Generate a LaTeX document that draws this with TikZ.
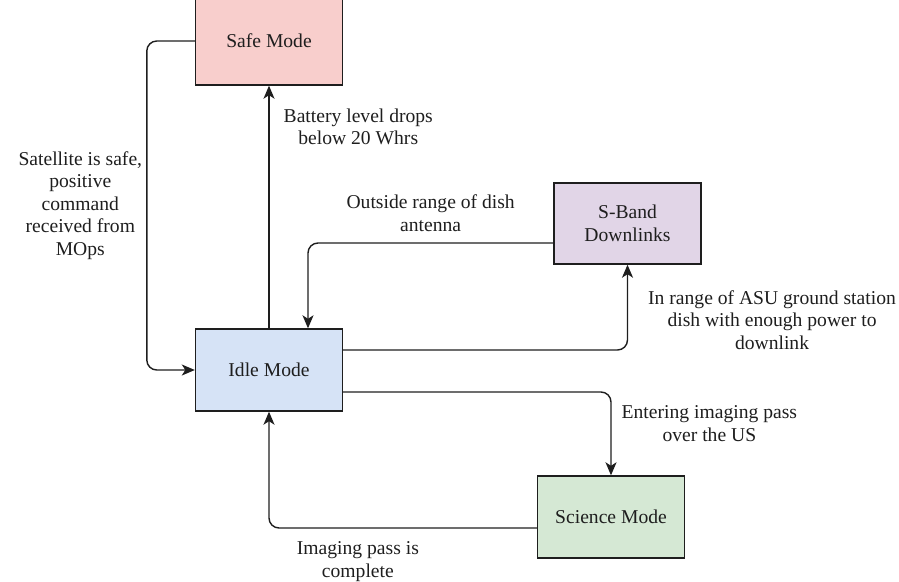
\documentclass[tikz,border=0pt]{standalone}
\usepackage{fontspec}
\setmainfont{Liberation Serif}
\usetikzlibrary{positioning,arrows.meta}

\definecolor{safefill}{HTML}{F8CECC}
\definecolor{idlefill}{HTML}{D6E3F6}
\definecolor{bandfill}{HTML}{E1D5E7}
\definecolor{scifill}{HTML}{D5E8D4}
\definecolor{boxline}{HTML}{1E1E1E}
\definecolor{txt}{HTML}{1E1E1E}

\begin{document}
\begin{tikzpicture}[x=1pt,y=-1pt,node distance=1cm,on grid,
		mode/.style={rectangle, draw=boxline, line width=1.4pt, minimum width=147pt, minimum height=82pt,
			align=center, text=txt, font=\fontsize{19.6}{22.5}\selectfont},
		lbl/.style={align=center, text=txt, inner sep=2pt, font=\fontsize{19.6}{22.5}\selectfont},
		link/.style={draw=boxline, line width=1.4pt, rounded corners=10pt,
			-{Stealth[length=13pt,width=11pt,inset=3.5pt]}}
	]
	
	\clip (0,0) rectangle (899,581);
	
	\node[mode, fill=idlefill] (idle) at (269,370) {Idle Mode};
	\node[mode, fill=safefill, minimum height=88pt] (safe) [above=329pt of idle] {Safe Mode};
	\node[mode, fill=bandfill, minimum height=81pt] (sband) [above right=146.5pt and 358.5pt of idle] {S-Band\\Downlinks};
	\node[mode, fill=scifill] (science) [below right=147pt and 342pt of idle] {Science Mode};
	
	\draw[link] (safe.west) -- ++(-48,0) |- (idle.west)
		node[lbl, anchor=east, pos=0.25, xshift=-2pt] (safecmd) {Satellite is safe,\\positive\\command\\received from\\MOps};
	\draw[link] (idle) -- (safe)
		node[lbl, anchor=west, pos=0.83, xshift=12pt] (lowbat) {Battery level drops\\below 20 Whrs};
	
	\draw[link] ([yshift=-19.5pt]sband.west) -| ([xshift=39pt]idle.north)
		node[lbl, anchor=south, pos=0.25, yshift=9pt] (outrange) {Outside range of dish\\antenna};
	\draw[link] ([yshift=20pt]idle.east) -| (sband.south)
		node[lbl, anchor=west, pos=0.675, xshift=18pt] (inrange) {In range of ASU ground station\\dish with enough power to\\downlink};
	
	\draw[link] ([yshift=-22pt]idle.east) -| (science.north)
		node[lbl, anchor=west, pos=0.69, xshift=8pt] (imgpass) {Entering imaging pass\\over the US};
	\draw[link] ([yshift=-11pt]science.west) -| (idle.south)
		node[lbl, anchor=north, pos=0.334, yshift=-11pt] (imgdone) {Imaging pass is\\complete};
\end{tikzpicture}
\end{document}
